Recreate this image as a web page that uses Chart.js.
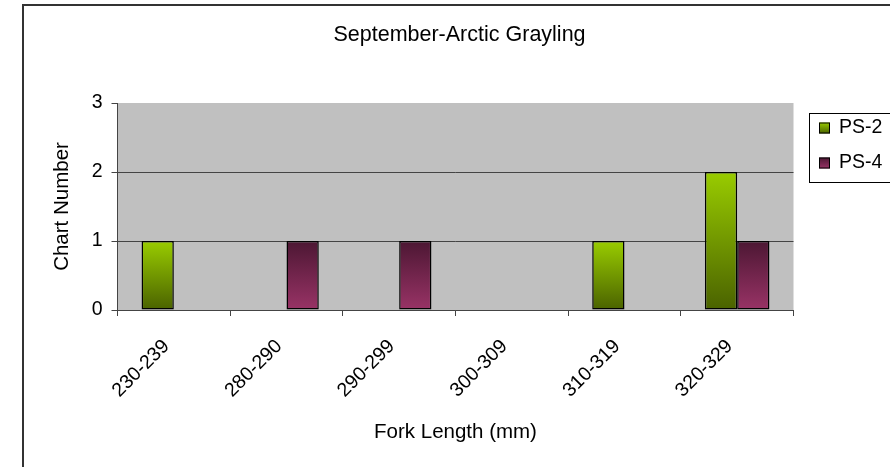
<!DOCTYPE html>
<html><head><meta charset="utf-8">
<script src="https://cdn.jsdelivr.net/npm/chart.js@4.4.1/dist/chart.umd.min.js"></script>
<style>html,body{margin:0;padding:0;background:#fff;overflow:hidden;} canvas{display:block;}</style>
</head><body>
<canvas id="c" width="890" height="467"></canvas>
<script>
const categories = ['230-239', '280-290', '290-299', '300-309', '310-319', '320-329'];
const ps2Values = [1, null, null, null, 1, 2];
const ps4Values = [null, 1, 1, null, null, 1];
const seriesNames = ['PS-2', 'PS-4'];
const yTickValues = [0, 1, 2, 3];
const chartTitle = 'September-Arctic Grayling';
const xAxisTitle = 'Fork Length (mm)';
const yAxisTitle = 'Chart Number';

const FONT = "'Liberation Sans', Arial, sans-serif";
const seriesStops = [['#99CC00', '#4A6200'], ['#4C1733', '#993366']];

function barGradient(stops) {
  return function (context) {
    const chart = context.chart;
    const { ctx, chartArea, scales } = chart;
    if (!chartArea || !scales.y) return stops[0];
    const v = context.raw;
    if (v == null) return stops[0];
    const yTop = scales.y.getPixelForValue(v);
    const yBase = scales.y.getPixelForValue(0);
    const g = ctx.createLinearGradient(0, yTop, 0, yBase);
    g.addColorStop(0, stops[0]);
    g.addColorStop(1, stops[1]);
    return g;
  };
}

const decor = {
  id: 'decor',
  beforeDraw(chart) {
    const { ctx, chartArea } = chart;
    ctx.save();
    ctx.fillStyle = '#C0C0C0';
    ctx.fillRect(chartArea.left, chartArea.top, chartArea.right - chartArea.left, chartArea.bottom - chartArea.top);
    ctx.fillStyle = '#333333';
    ctx.fillRect(22, 4, 2, 470);
    ctx.fillRect(22, 4, 880, 2);
    ctx.restore();
  },
  afterDraw(chart) {
    const { ctx } = chart;
    ctx.save();
    ctx.fillStyle = '#000';
    ctx.font = '21.5px ' + FONT;
    ctx.textAlign = 'center';
    ctx.textBaseline = 'middle';
    ctx.fillText(chartTitle, 459.5, 35.5);
    ctx.strokeStyle = '#000';
    ctx.lineWidth = 1;
    ctx.fillStyle = '#fff';
    ctx.fillRect(809.5, 113.5, 100, 69);
    ctx.strokeRect(809.5, 113.5, 100, 69);
    const rows = [128, 163];
    chart.data.datasets.forEach((ds, i) => {
      const cy = rows[i];
      const g = ctx.createLinearGradient(0, cy - 5.5, 0, cy + 5.5);
      g.addColorStop(0, seriesStops[i][0]);
      g.addColorStop(1, seriesStops[i][1]);
      ctx.fillStyle = g;
      ctx.fillRect(819, cy - 5.5, 11, 11);
      ctx.strokeRect(819.5, cy - 5, 10, 10);
      ctx.fillStyle = '#000';
      ctx.font = '19.5px ' + FONT;
      ctx.textAlign = 'left';
      ctx.textBaseline = 'middle';
      ctx.fillText(ds.label, 839, cy);
    });
    ctx.restore();
  }
};

new Chart(document.getElementById('c'), {
  type: 'bar',
  data: {
    labels: categories,
    datasets: [
      { label: seriesNames[0], data: ps2Values, backgroundColor: barGradient(seriesStops[0]), borderColor: '#000', borderWidth: 1.5, borderSkipped: false },
      { label: seriesNames[1], data: ps4Values, backgroundColor: barGradient(seriesStops[1]), borderColor: '#000', borderWidth: 1.5, borderSkipped: false }
    ]
  },
  options: {
    responsive: false,
    animation: false,
    devicePixelRatio: 1,
    layout: { padding: { top: 103, right: 96.5, left: 0, bottom: 0 } },
    datasets: { bar: { categoryPercentage: 0.573, barPercentage: 1.0 } },
    plugins: { legend: { display: false }, title: { display: false }, tooltip: { enabled: false } },
    scales: {
      x: {
        afterFit(scale) { scale.height = 157; },
        grid: { offset: true, drawOnChartArea: false, tickLength: 6, color: '#444', lineWidth: 1 },
        border: { display: true, color: '#444', width: 1 },
        ticks: { autoSkip: false, minRotation: 45, maxRotation: 45, labelOffset: -7.5, padding: 19, color: '#000', font: { family: FONT, size: 19.5 } },
        title: { display: true, text: xAxisTitle, color: '#000', font: { family: FONT, size: 20.5 }, padding: { top: 0, bottom: 22 } }
      },
      y: {
        min: yTickValues[0],
        max: yTickValues[yTickValues.length - 1],
        afterFit(scale) { scale.width = 117.5; },
        afterBuildTicks(scale) { scale.ticks = yTickValues.map(v => ({ value: v })); },
        grid: {
          color: (c) => (c.tick && c.tick.value === 3) ? 'rgba(0,0,0,0)' : '#444',
          tickColor: '#444', tickLength: 6, lineWidth: 1
        },
        border: { display: true, color: '#444', width: 1 },
        ticks: { padding: 9, color: '#000', font: { family: FONT, size: 19.5 } },
        title: { display: true, text: yAxisTitle, color: '#000', font: { family: FONT, size: 20.5 }, padding: { top: 50, bottom: 0 } }
      }
    }
  },
  plugins: [decor]
});
</script>
</body></html>
